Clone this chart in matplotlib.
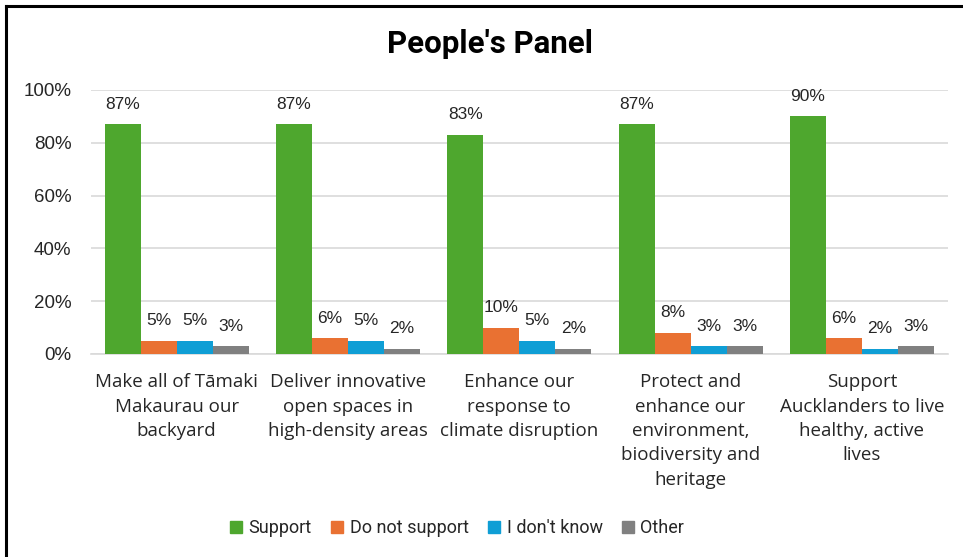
import matplotlib.pyplot as plt
import numpy as np
from matplotlib.lines import Line2D

categories = [
    'Make all of Tāmaki\nMakaurau our\nbackyard',
    'Deliver innovative\nopen spaces in\nhigh-density areas',
    'Enhance our\nresponse to\nclimate disruption',
    'Protect and\nenhance our\nenvironment,\nbiodiversity and\nheritage',
    'Support\nAucklanders to live\nhealthy, active\nlives',
]
series_names = ['Support', 'Do not support', "I don't know", 'Other']
support = [87, 87, 83, 87, 90]
not_support = [5, 6, 10, 8, 6]
dont_know = [5, 5, 5, 3, 2]
other = [3, 2, 2, 3, 3]
colors = ['#4ea72e', '#e97132', '#0f9ed5', '#808080']

narrow = ['Roboto', 'DejaVu Sans']
arial = ['Liberation Sans', 'DejaVu Sans']
aptos = ['Open Sans', 'DejaVu Sans']

fig = plt.figure(figsize=(9.63, 5.57), dpi=100)
ax = fig.add_axes([0.0945, 0.3645, 0.8895, 0.474])

x = np.arange(len(categories))
w = 0.21
for i, (vals, name, c) in enumerate(zip([support, not_support, dont_know, other],
                                        series_names, colors)):
    pos = x + (i - 1.5) * w
    bars = ax.bar(pos, np.array(vals) / 100, width=w, color=c, label=name, zorder=3)
    for b, v in zip(bars, vals):
        ax.annotate(f'{v}%', (b.get_x() + b.get_width() / 2, b.get_height()),
                    xytext=(0, 9), textcoords='offset points',
                    ha='center', va='bottom', fontsize=12.5, family=arial, color='#262626')

ax.set_xlim(-0.5, len(categories) - 0.5)
ax.set_ylim(0, 1)
ticks = np.arange(0, 1.01, 0.2)
ax.set_yticks(ticks)
ax.set_yticklabels([f'{int(round(t * 100))}%' for t in ticks],
                   family=arial, fontsize=13.5, color='#262626')
ax.yaxis.grid(True, color='#d9d9d9', linewidth=1.2, zorder=0)
ax.tick_params(axis='both', length=0)
ax.tick_params(axis='y', pad=14)
ax.set_xticks(x)
ax.set_xticklabels(categories, family=aptos, fontsize=13.5, color='#262626',
                   linespacing=1.45)
ax.tick_params(axis='x', pad=14)
for s in ['top', 'right', 'left']:
    ax.spines[s].set_visible(False)
ax.spines['bottom'].set_color('#d9d9d9')
ax.spines['bottom'].set_linewidth(1.2)

fig.text(0.509, 0.921, "People's Panel", ha='center', va='center',
         fontsize=22.5, fontweight='bold', family=narrow, color='black')

handles = [Line2D([], [], marker='s', linestyle='none', markersize=9,
                  markerfacecolor=c, markeredgecolor=c) for c in colors]
fig.legend(handles, series_names, loc='center', bbox_to_anchor=(0.474, 0.052),
           ncol=4, frameon=False, prop={'family': narrow, 'size': 13},
           handlelength=0.8, handletextpad=0.3, columnspacing=1.0,
           labelcolor='#262626')

# frame edges along top and left
fig.add_artist(Line2D([0.0062, 1.0], [0.9895, 0.9895], color='black', lw=2.2,
                      transform=fig.transFigure))
fig.add_artist(Line2D([0.0062, 0.0062], [0.0, 0.9895], color='black', lw=2.2,
                      transform=fig.transFigure))

fig.savefig('out.png', dpi=100)
